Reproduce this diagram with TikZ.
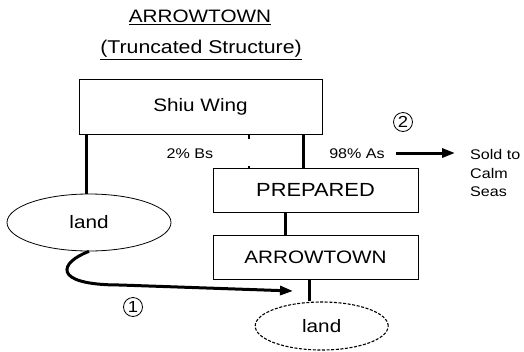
\documentclass[tikz,border=0pt]{standalone}
\usepackage{fontspec}
\setmainfont{Liberation Sans}[FakeStretch=1.15]
\usetikzlibrary{shapes.geometric, arrows.meta}

\begin{document}
\begin{tikzpicture}[x=1pt, y=-1pt,
  box/.style={draw, line width=0.8pt, inner sep=0pt, font=\fontsize{18}{20}\selectfont},
  land/.style={draw, ellipse, line width=0.8pt, inner sep=0pt, font=\fontsize{18}{20}\selectfont},
  link/.style={line width=3pt},
  note/.style={font=\fontsize{14}{18.5}\selectfont},
  circnum/.style={draw, circle, line width=0.8pt, minimum size=19pt, inner sep=0pt,
    font=\fontsize{16}{16}\selectfont},
  bigarrow/.style={line width=3pt, -{Triangle[length=13pt, width=9pt]}}]
  \useasboundingbox (0,0) rectangle (524,351);

  % Title
  \node[font=\fontsize{18}{20}\selectfont] (title) at (200,17) {\underline{ARROWTOWN}};
  \node[font=\fontsize{18.5}{20}\selectfont] (subtitle) at (201,50) {\underline{(Truncated Structure)}};

  % Companies
  \node[box, minimum width=243pt, minimum height=55pt] (shiu) at (200.5,106.5) {Shiu Wing};
  \node[box, minimum width=205pt, minimum height=44pt, font=\fontsize{19}{20}\selectfont]
     (prep) at (315.5,190) {PREPARED};
  \node[box, minimum width=205pt, minimum height=44pt] (arrow) at (315.5,257) {ARROWTOWN};

  % Land
  \node[land, minimum width=164pt, minimum height=57pt] (landl) at (89,222.5) {land};
  \node[land, line width=1.1pt, dash pattern=on 3pt off 1.6pt,
     minimum width=133pt, minimum height=48pt] (landr) at (321.7,326) {land};

  % Shares
  \node[note] (bs) at (190,154) {2\% Bs};
  \node[note] (as) at (357,154) {98\% As};
  \node[note, align=left, anchor=west, inner sep=0pt] (sold) at (470,173) {Sold to\\Calm\\Seas};

  % Steps
  \node[circnum] (two) at (403,122) {2};
  \node[circnum] (one) at (133,307) {1};

  % Links
  \draw[link] ([xshift=-114.5pt]shiu.south) -- ([xshift=-114.5pt]shiu.south |- landl.north);
  \draw[link, line width=2.5pt, dash pattern=on 5pt off 27pt on 5pt]
     ([xshift=48.5pt]shiu.south) -- ([xshift=48.5pt]shiu.south |- prep.north);
  \draw[link] ([xshift=103pt]shiu.south) -- ([xshift=103pt]shiu.south |- prep.north);
  \draw[link] ([xshift=-30.5pt]prep.south) -- ([xshift=-30.5pt]prep.south |- arrow.north);
  \draw[link] ([xshift=-6.5pt]arrow.south) -- ([xshift=-6.5pt]arrow.south |- landr.north);

  % Transfers
  \coordinate (tip1) at (293,291);
  \coordinate (tip2) at (455,153);
  \draw[bigarrow] (landl.south) .. controls (60,262) and (50,285) .. (120,285) -- (tip1);
  \draw[bigarrow] ([xshift=8pt]as.east |- tip2) -- (tip2);
\end{tikzpicture}
\end{document}
